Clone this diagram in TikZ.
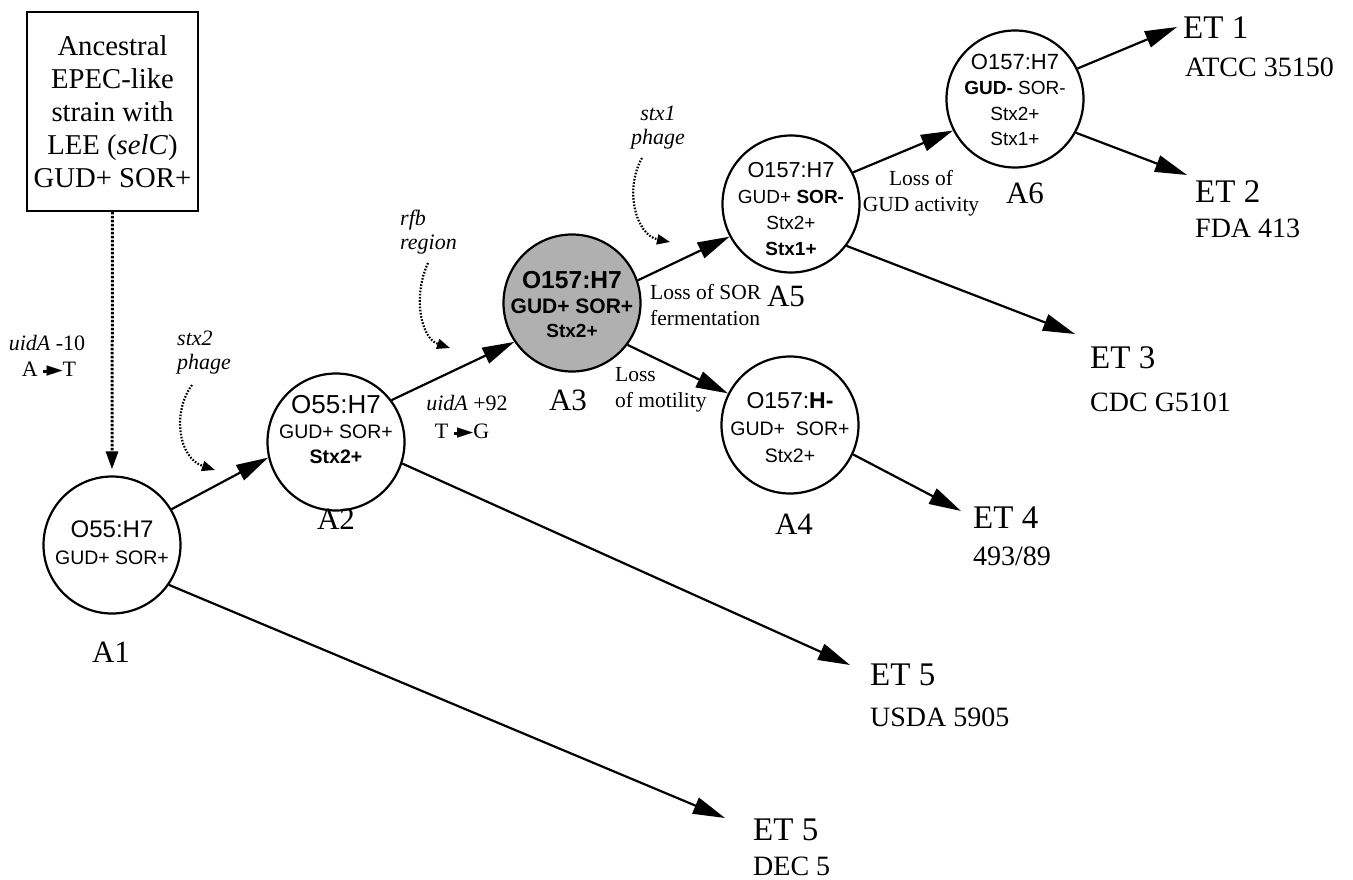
\documentclass[tikz,border=0pt]{standalone}
\usepackage{fontspec}
\setmainfont{Liberation Serif}
\newfontfamily\hvf{Liberation Sans}
\newfontfamily\dvf{DejaVu Sans}
\usetikzlibrary{arrows.meta}
\newcommand{\fsz}[2]{\fontsize{#1}{#2}\selectfont}
\newcommand{\smarrow}{\rule[0.28ex]{0.35em}{0.13em}\kern-0.2em\raisebox{-0.05ex}{\dvf\fsz{21}{21}\char"25BA}}
\begin{document}
\begin{tikzpicture}[x=1pt,y=-1pt,
  state/.style={circle,draw,line width=2.2pt,minimum size=137pt,inner sep=0pt},
  ctext/.style={font=\hvf\fsz{19}{25},align=center,inner sep=0pt},
  conn/.style={line width=2.2pt,-{Triangle[length=32pt,width=17pt]}},
  phage/.style={line width=2.2pt,dash pattern=on 1.6pt off 1.6pt,-{Triangle[length=13pt,width=10pt]}},
  anc/.style={line width=3pt,dash pattern=on 2.4pt off 1.6pt,-{Triangle[length=18pt,width=12pt]}},
  alab/.style={font=\fsz{31}{31},inner sep=0pt},
  etlab/.style={font=\fsz{33}{33},inner sep=0pt,anchor=west},
  etsub/.style={font=\fsz{28}{28},inner sep=0pt,anchor=west},
  elab/.style={font=\fsz{21.5}{26},inner sep=0pt},
  ilab/.style={font=\itshape\fsz{22}{24},inner sep=0pt}
]
\useasboundingbox (0,0) rectangle (1353,880);

% ancestral box
\node[draw,line width=1.8pt,minimum width=171pt,minimum height=199pt,inner sep=0pt,
      align=center,font=\fsz{28.7}{33}] (anc) at (112.5,111.5)
  {Ancestral\\EPEC-like\\strain with\\LEE (\textit{selC})\\GUD+ SOR+};

% states
\node[state] (A1) at (112,545) {};
\node[state] (A2) at (336,442) {};
\node[state,fill=gray!62] (A3) at (572,303) {};
\node[state] (A4) at (790,425) {};
\node[state] (A5) at (791,204) {};
\node[state] (A6) at (1015,99) {};

\node[ctext,font=\hvf\fsz{19.5}{27}] (A1t) at (112,543) {{\fsz{24}{27}O55:H7}\\GUD+ SOR+};
\node[ctext,font=\hvf\fsz{19.5}{25}] (A2t) at (336,430) {{\fsz{26}{26}O55:H7}\\GUD+ SOR+\\\textbf{Stx2+}};
\node[ctext,font=\hvf\bfseries\fsz{21}{24.5}] (A3t) at (572,305) {{\fsz{24.6}{24.5}O157:H7}\\GUD+ SOR+\\{\fsz{19}{24.5}Stx2+}};
\node[ctext,font=\hvf\fsz{19.5}{27}] (A4t) at (790,428) {{\fsz{23}{27}O157:\textbf{H-}}\\GUD+\ \ SOR+\\Stx2+};
\node[ctext,font=\hvf\fsz{19}{26}] (A5t) at (791,209) {{\fsz{21.7}{26}O157:H7}\\GUD+ \textbf{SOR-}\\Stx2+\\\textbf{Stx1+}};
\node[ctext,font=\hvf\fsz{19}{25.3}] (A6t) at (1015,100) {{\fsz{22}{25.3}O157:H7}\\\textbf{GUD-} SOR-\\Stx2+\\Stx1+};

\node[alab] (A1l) at (111,652) {A1};
\node[alab] (A2l) at (336,519) {A2};
\node[alab] (A3l) at (568,400) {A3};
\node[alab] (A4l) at (794,524) {A4};
\node[alab] (A5l) at (786,296) {A5};
\node[alab] (A6l) at (1025,193) {A6};

% ET labels
\node[etlab] (et1) at (1183,28) {ET 1};
\node[etsub] (et1s) at (1185,67) {ATCC 35150};
\node[etlab] (et2) at (1195,192) {ET 2};
\node[etsub] (et2s) at (1195,228) {FDA 413};
\node[etlab] (et3) at (1090,358) {ET 3};
\node[etsub] (et3s) at (1090,402) {CDC G5101};
\node[etlab] (et4) at (973,518) {ET 4};
\node[etsub] (et4s) at (973,556) {493/89};
\node[etlab] (et5a) at (870,675) {ET 5};
\node[etsub] (et5as) at (870,717) {USDA 5905};
\node[etlab] (et5b) at (753,830) {ET 5};
\node[etsub] (et5bs) at (753,866) {DEC 5};

\coordinate (t1) at (1177,27);
\coordinate (t2) at (1187,175);
\coordinate (t3) at (1075,334);
\coordinate (t4) at (961,511);
\coordinate (t5a) at (850,665);
\coordinate (t5b) at (725,818);

% edge labels
\node[ilab] (u10) at (47,343) {uidA \upshape -10};
\node[elab,font=\fsz{22}{24}] (at) at (49,369) {A \smarrow T};
\node[ilab] (u92) at (467,403) {uidA \upshape +92};
\node[elab,font=\fsz{22}{24}] (tg) at (462,431) {T \smarrow G};
\node[elab,anchor=west,align=left] (lsor) at (650,305) {Loss of SOR\\fermentation};
\node[elab,anchor=west,align=left] (lmot) at (615,390) {Loss\\of motility};
\node[elab,align=center] (lgud) at (921,193) {Loss of\\GUD activity};
\node[ilab,anchor=west,align=left] (stx2l) at (177,353) {stx2\\phage};
\node[ilab,anchor=west,align=left] (rfbl) at (400,232) {rfb\\region};
\node[ilab,align=center] (stx1l) at (658,128) {stx1\\phage};

% connectors
\draw[anc] (anc.south) -- ([yshift=6pt]A1.north);
\draw[conn] (A1.31) -- (A2.193);
\draw[conn] (A2.37) -- (A3.214);
\draw[conn] (A3.19) -- (A5.208);
\draw[conn] (A3.-37) -- (A4.153);
\draw[conn] (A5.27) -- (A6.207);
\draw[conn] (A1.-35) -- (t5b);
\draw[conn] (A2.-18) -- (t5a);
\draw[conn] (A5.-37) -- (t3);
\draw[conn] (A4.-25) -- (t4);
\draw[conn] (A6.26) -- (t1);
\draw[conn] (A6.-29) -- (t2);

% phage insertions
\coordinate (s2a) at (192,385); \coordinate (s2b) at (215,470);
\draw[phage] (s2a) .. controls (172,412) and (178,458) .. (s2b);
\coordinate (rfa) at (428,263); \coordinate (rfe) at (450,348);
\draw[phage] (rfa) .. controls (413,295) and (420,338) .. (rfe);
\coordinate (s1a) at (642,158); \coordinate (s1b) at (670,242);
\draw[phage] (s1a) .. controls (624,190) and (636,235) .. (s1b);
\end{tikzpicture}
\end{document}
